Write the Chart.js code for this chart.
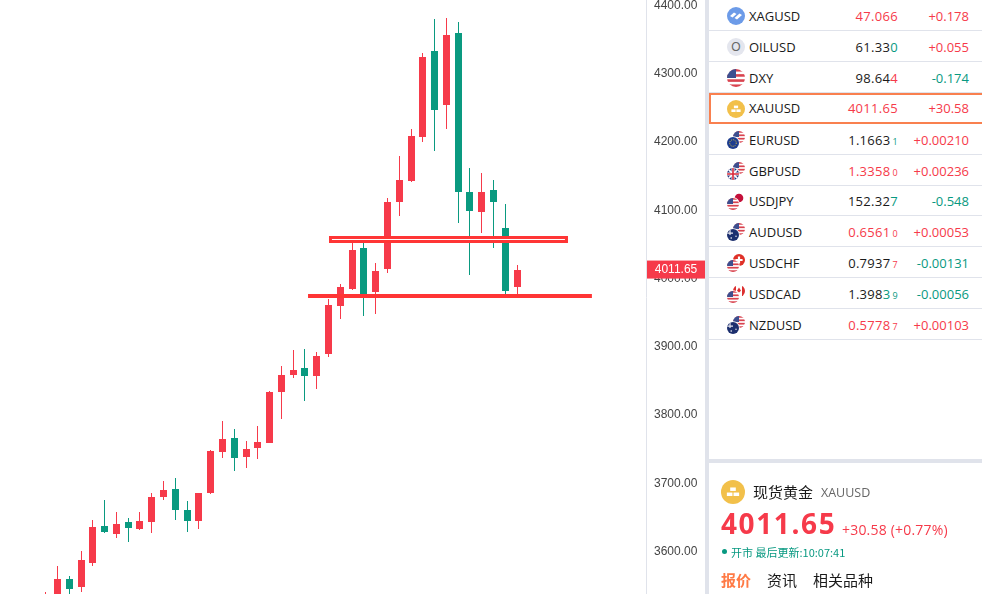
<!DOCTYPE html>
<html>
<head>
<meta charset="utf-8">
<title>XAUUSD</title>
<script src="https://cdn.jsdelivr.net/npm/chart.js@4/dist/chart.umd.min.js"></script>
<style>
    html, body { margin: 0; padding: 0; background: #fff; overflow: hidden; width: 982px; height: 594px; }
    body { font-family: "Open Sans", "Noto Sans CJK SC", sans-serif; color: #1a1a1a; position: relative; }
    #chart { position: absolute; left: 0; top: 0; }
    .bar { position: absolute; background: #e0e3eb; }
    .row { position: absolute; left: 709px; width: 273px; height: 30px; border-bottom: 1px solid #e0e3eb; font-size: 13px; line-height: 32px; }
    .row.active { box-shadow: inset 2px 2px 0 #f9804f, inset 0 -2px 0 #f9804f; border-bottom: none; height: 31px; line-height: 31px; }
    .row svg { position: absolute; left: 18px; top: 7px; }
    .row .sym { position: absolute; left: 40px; top: 0; }
    .row .px { position: absolute; right: 84px; top: 0; white-space: nowrap; letter-spacing: .3px; }
    .row .chg { position: absolute; right: 13px; top: 0; white-space: nowrap; }
    .row small { font-size: 9px; margin-left: 2px; }
    .up { color: #f63a4a; }
    .down { color: #089981; }
    .abs { position: absolute; white-space: nowrap; }
</style>
</head>
<body>
<canvas id="chart" width="706" height="594"></canvas>
<div class="bar" style="left:705px;top:0;width:4px;height:594px"></div>
<div class="bar" style="left:705px;top:459px;width:277px;height:4px"></div>
<div id="rows"></div>

<svg class="abs" style="left:721px;top:480px" width="24" height="24" viewBox="0 0 24 24" id="goldBig"></svg>
<div class="abs" style="left:753px;top:481px;font:15px 'Noto Sans CJK SC'">现货黄金</div>
<div class="abs" style="left:821px;top:484px;font-size:12.5px;color:#666">XAUUSD</div>
<div class="abs up" style="left:721px;top:504px;font:bold 28px 'Open Sans';letter-spacing:1.6px">4011.65</div>
<div class="abs up" style="left:842px;top:520px;font-size:14px;letter-spacing:.2px">+30.58 (+0.77%)</div>
<div class="abs" style="left:722px;top:549px;width:5px;height:5px;border-radius:50%;background:#089981"></div>
<div class="abs down" style="left:731px;top:544px;font:11px 'Noto Sans CJK SC'">开市 最后更新:10:07:41</div>
<div class="abs" style="left:721px;top:569px;font:bold 15px 'Noto Sans CJK SC';color:#ff7a45">报价</div>
<div class="abs" style="left:767px;top:569px;font:15px 'Noto Sans CJK SC'">资讯</div>
<div class="abs" style="left:813px;top:569px;font:15px 'Noto Sans CJK SC'">相关品种</div>

<script>
// candle values
var candleIndex = [0,1,2,3,4,5,6,7,8,9,10,11,12,13,14,15,16,17,18,19,20,21,22,23,24,25,26,27,28,29,30,31,32,33,34,35,36,37,38,39,40];
var opens  = [3510,3527,3558,3547,3582,3636,3624,3642,3632,3642,3678,3690,3659,3643,3684,3744,3765,3737,3750,3758,3832,3857,3867,3856,3888,3958,3983,4043,3979,4013,4111,4141,4206,4332,4253,4358,4125,4096,4128,4073,3986];
var highs  = [3539,3577,3563,3599,3645,3674,3656,3648,3656,3684,3702,3706,3673,3684,3747,3790,3778,3760,3782,3834,3870,3894,3895,3891,3969,3991,4058,4058,4021,4117,4178,4218,4329,4379,4380,4374,4161,4153,4143,4108,4018];
var lows   = [3500,3520,3535,3539,3577,3626,3618,3613,3630,3626,3674,3645,3627,3632,3683,3736,3717,3721,3734,3758,3793,3853,3819,3837,3884,3939,3982,3944,3947,4007,4090,4140,4199,4185,4218,4080,4004,4065,4043,3976,3974];
var closes = [3530,3558,3544,3586,3634,3627,3639,3633,3643,3678,3689,3659,3643,3684,3746,3763,3736,3749,3759,3832,3857,3865,3856,3885,3960,3986,4040,3974,4010,4111,4143,4207,4323,4245,4355,4125,4098,4125,4111,3980,4011.65];

var yTicks = [4400,4300,4200,4100,4000,3900,3800,3700,3600];
var lastPrice = 4011.65;

// the two levels drawn by hand on the chart
var upperLevel = 4055.7;
var lowerLevel = 3973;

// quote list
var symbols = ['XAGUSD','OILUSD','DXY','XAUUSD','EURUSD','GBPUSD','USDJPY','AUDUSD','USDCHF','USDCAD','NZDUSD'];
var prices  = ['47.066','61.33','98.64','4011.65','1.1663','1.3358','152.32','0.6561','0.7937','1.398','0.5778'];
var tails   = ['','0','4','','1','0','7','0','7','39','7'];
var changes = ['+0.178','+0.055','-0.174','+30.58','+0.00210','+0.00236','-0.548','+0.00053','-0.00131','-0.00056','+0.00103'];
var priceCls = ['up','','','up','','up','','up','','','up'];
var tailCls  = ['','down','up','','down','up','down','up','up','down','up'];

var RED = '#f63a4a', GREEN = '#0a9a80', LINE = '#ff3535';

function candleColor(i) { return closes[i] >= opens[i] ? RED : GREEN; }

var wicks = candleIndex.map(function(i) { return { x: i, y: [lows[i], highs[i]] }; });
var bodies = candleIndex.map(function(i) { return { x: i, y: [opens[i], closes[i]] }; });
var colors = candleIndex.map(candleColor);

// keep candles on whole pixels like the original
var snapPlugin = {
    id: 'snap',
    afterDatasetsUpdate: function(chart) {
        chart.data.datasets.forEach(function(ds, n) {
            if (ds.type !== 'bar') return;
            chart.getDatasetMeta(n).data.forEach(function(el) {
                el.x = Math.floor(el.x) + 0.5;
                el.y = Math.round(el.y);
                el.base = Math.round(el.base);
            });
        });
    },
    // axis text sits one pixel lower than canvas 'middle' gives
    beforeDraw: function(chart) {
        chart.scales.y.getLabelItems().forEach(function(item) {
            if (!item.nudged) {
                item.options.translation[1] += 1;
                item.nudged = true;
            }
        });
    }
};

// last price tag on the axis
var tagPlugin = {
    id: 'tag',
    afterDraw: function(chart) {
        var ctx = chart.ctx, y = chart.scales.y.getPixelForValue(lastPrice);
        ctx.save();
        ctx.fillStyle = RED;
        ctx.fillRect(647, y - 9, 58, 18);
        ctx.fillStyle = '#fff';
        ctx.font = '12px "Liberation Sans"';
        ctx.textAlign = 'center';
        ctx.textBaseline = 'middle';
        ctx.fillText(lastPrice.toFixed(2), 676, y + 0.5);
        ctx.restore();
    }
};

function levelLine(x0, x1, value, width, color, order) {
    return {
        type: 'line',
        data: [{ x: x0, y: value }, { x: x1, y: value }],
        borderColor: color,
        borderWidth: width,
        borderCapStyle: 'butt',
        pointRadius: 0,
        order: order
    };
}

new Chart(document.getElementById('chart'), {
    data: {
        datasets: [
            { type: 'bar', data: wicks, backgroundColor: colors, barThickness: 1, grouped: false, inflateAmount: 0, order: 4 },
            { type: 'bar', data: bodies, backgroundColor: colors, barThickness: 7, grouped: false, inflateAmount: 0, order: 3 },
            levelLine(24.04, 44.32, upperLevel, 7, LINE, 2),
            levelLine(24.29, 44.06, upperLevel, 1, '#ffffff', 1),
            levelLine(22.26, 46.35, lowerLevel, 4, LINE, 2)
        ]
    },
    plugins: [snapPlugin, tagPlugin],
    options: {
        responsive: false,
        animation: false,
        events: [],
        layout: { padding: 0 },
        plugins: { legend: { display: false }, tooltip: { enabled: false } },
        scales: {
            x: { type: 'linear', display: false, offset: false, min: -3.879, max: 50.94 },
            y: {
                position: 'right',
                min: 3536.3,
                max: 4406.6,
                afterFit: function(axis) {
                    axis.width = 60;
                    axis.paddingTop = 0;
                    axis.paddingBottom = 0;
                },
                afterBuildTicks: function(axis) {
                    axis.ticks = yTicks.map(function(v) { return { value: v }; });
                },
                grid: { display: false, drawTicks: false },
                border: { display: true, color: '#e0e3eb', width: 1 },
                ticks: {
                    autoSkip: false,
                    padding: 8,
                    color: '#444',
                    font: { family: '"Liberation Sans"', size: 12 },
                    callback: function(v) { return v.toFixed(2); }
                }
            }
        }
    }
});

/* ---- icons for the quote list ---- */
var uid = 0;
function disc(cx, cy, r, inner) {
    var id = 'c' + (++uid);
    return '<clipPath id="' + id + '"><circle cx="' + cx + '" cy="' + cy + '" r="' + r + '"/></clipPath>' +
        '<g clip-path="url(#' + id + ')">' + inner + '</g>';
}
function usFlag(cx, cy, r) {
    var s = '<rect x="' + (cx - r) + '" y="' + (cy - r) + '" width="' + 2 * r + '" height="' + 2 * r + '" fill="#fff"/>';
    for (var k = 0; k < 4; k++) {
        s += '<rect x="' + (cx - r) + '" y="' + (cy - r + k * 2 * r / 3.5) + '" width="' + 2 * r + '" height="' + (r / 3.5) + '" fill="#d9434f"/>';
    }
    s += '<rect x="' + (cx - r) + '" y="' + (cy - r) + '" width="' + r + '" height="' + r + '" fill="#3d4f8f"/>';
    return disc(cx, cy, r, s);
}
function solid(cx, cy, r, color, extra) {
    return disc(cx, cy, r, '<rect x="' + (cx - r) + '" y="' + (cy - r) + '" width="' + 2 * r + '" height="' + 2 * r + '" fill="' + color + '"/>' + (extra || ''));
}
function goldBars(size) {
    var u = size / 18;
    function b(x, y) { return '<rect x="' + x * u + '" y="' + y * u + '" width="' + 4.2 * u + '" height="' + 2.6 * u + '" fill="#fff"/>'; }
    return '<circle cx="' + 9 * u + '" cy="' + 9 * u + '" r="' + 9 * u + '" fill="#f2c04a"/>' + b(6.9, 5.6) + b(4.4, 9.4) + b(9.4, 9.4);
}
function ring(cx, cy, r) {
    return '<circle cx="' + cx + '" cy="' + cy + '" r="' + (r + 0.8) + '" fill="#fff"/>';
}
function navyFlag(cx, cy, r) {
    return solid(cx, cy, r, '#1c2f6e',
        '<path d="M' + (cx - r) + ' ' + (cy - r * 0.3) + 'H' + cx + 'M' + (cx - r * 0.5) + ' ' + (cy - r) + 'V' + cy + '" stroke="#e8e8f0" stroke-width="1.2"/>' +
        '<circle cx="' + (cx + r * 0.5) + '" cy="' + (cy + r * 0.2) + '" r="0.7" fill="#fff"/><circle cx="' + (cx - r * 0.3) + '" cy="' + (cy + r * 0.5) + '" r="0.8" fill="#fff"/>');
}
var foreign = {
    EUR: function(cx, cy, r) { return solid(cx, cy, r, '#1d3d8f', '<circle cx="' + cx + '" cy="' + cy + '" r="' + r * 0.55 + '" fill="none" stroke="#e8c93a" stroke-width="1" stroke-dasharray="1 1.2"/>'); },
    GBP: function(cx, cy, r) {
        return solid(cx, cy, r, '#27357c',
            '<path d="M' + (cx - r) + ' ' + (cy - r) + 'L' + (cx + r) + ' ' + (cy + r) + 'M' + (cx + r) + ' ' + (cy - r) + 'L' + (cx - r) + ' ' + (cy + r) + '" stroke="#fff" stroke-width="1.6"/>' +
            '<path d="M' + cx + ' ' + (cy - r) + 'V' + (cy + r) + 'M' + (cx - r) + ' ' + cy + 'H' + (cx + r) + '" stroke="#fff" stroke-width="3"/>' +
            '<path d="M' + cx + ' ' + (cy - r) + 'V' + (cy + r) + 'M' + (cx - r) + ' ' + cy + 'H' + (cx + r) + '" stroke="#d9293a" stroke-width="1.6"/>');
    },
    AUD: navyFlag,
    NZD: navyFlag,
    JPY: function(cx, cy, r) { return solid(cx, cy, r, '#fff', '<circle cx="' + cx + '" cy="' + cy + '" r="' + r * 0.72 + '" fill="#c4103a"/>'); },
    CHF: function(cx, cy, r) { return solid(cx, cy, r, '#df3027', '<path d="M' + cx + ' ' + (cy - r * 0.6) + 'V' + (cy + r * 0.6) + 'M' + (cx - r * 0.6) + ' ' + cy + 'H' + (cx + r * 0.6) + '" stroke="#fff" stroke-width="2.2"/>'); },
    CAD: function(cx, cy, r) { return solid(cx, cy, r, '#fff', '<path d="M' + (cx - r) + ' ' + (cy - r) + 'h' + r * 0.5 + 'v' + 2 * r + 'h-' + r * 0.5 + 'zM' + (cx + r * 0.5) + ' ' + (cy - r) + 'h' + r * 0.5 + 'v' + 2 * r + 'h-' + r * 0.5 + 'z" fill="#dc2f2f"/><path d="M' + cx + ' ' + (cy - r * 0.6) + 'l2 3.4l-2 1.6l-2 -1.6z" fill="#dc2f2f"/>'); }
};
function rowIcon(sym) {
    var inner;
    if (sym === 'XAGUSD') {
        inner = '<circle cx="9" cy="9" r="9" fill="#6c9be8"/>' +
            '<path d="M3 9l4-3.5l2.5 1.5l-4 3.5zM7.5 11l5-4.5l2.5 1.5l-5 4.5z" fill="#fff"/>';
    } else if (sym === 'OILUSD') {
        inner = '<circle cx="9" cy="9" r="9" fill="#e4e6ee"/>' +
            '<text x="9" y="13" text-anchor="middle" font-size="12" font-family="Liberation Sans" fill="#666">O</text>';
    } else if (sym === 'DXY') {
        inner = usFlag(9, 9, 9);
    } else if (sym === 'XAUUSD') {
        inner = goldBars(18);
    } else if (sym.indexOf('USD') === 0) {
        // dollar at the lower left, other currency behind it
        inner = foreign[sym.slice(3)](12, 6, 6) + ring(6, 12, 6) + usFlag(6, 12, 6);
    } else {
        inner = usFlag(12, 6, 6) + ring(6, 12, 6) + foreign[sym.slice(0, 3)](6, 12, 6);
    }
    return '<svg width="18" height="18" viewBox="0 0 18 18">' + inner + '</svg>';
}

/* ---- quote list ---- */
var html = '';
symbols.forEach(function(sym, i) {
    var tail = tails[i];
    var small = '';
    if (sym.length === 6 && /USD/.test(sym) && sym !== 'XAGUSD' && sym !== 'OILUSD' && sym !== 'XAUUSD' && sym !== 'USDJPY') {
        // five decimals: last digit is printed small
        if (tail.length === 2) {
            small = '<span class="' + tailCls[i] + '">' + tail[0] + '<small>' + tail[1] + '</small></span>';
        } else {
            small = '<small class="' + tailCls[i] + '">' + tail + '</small>';
        }
    } else if (tail) {
        small = '<span class="' + tailCls[i] + '">' + tail + '</span>';
    }
    var top = Math.round(i * 30.9);
    html += '<div class="row' + (sym === 'XAUUSD' ? ' active' : '') + '" style="top:' + top + 'px">' +
        rowIcon(sym) +
        '<span class="sym">' + sym + '</span>' +
        '<span class="px ' + priceCls[i] + '">' + prices[i] + small + '</span>' +
        '<span class="chg ' + (changes[i][0] === '+' ? 'up' : 'down') + '">' + changes[i] + '</span>' +
        '</div>';
});
document.getElementById('rows').innerHTML = html;
document.getElementById('goldBig').innerHTML = goldBars(24);
</script>
</body>
</html>
